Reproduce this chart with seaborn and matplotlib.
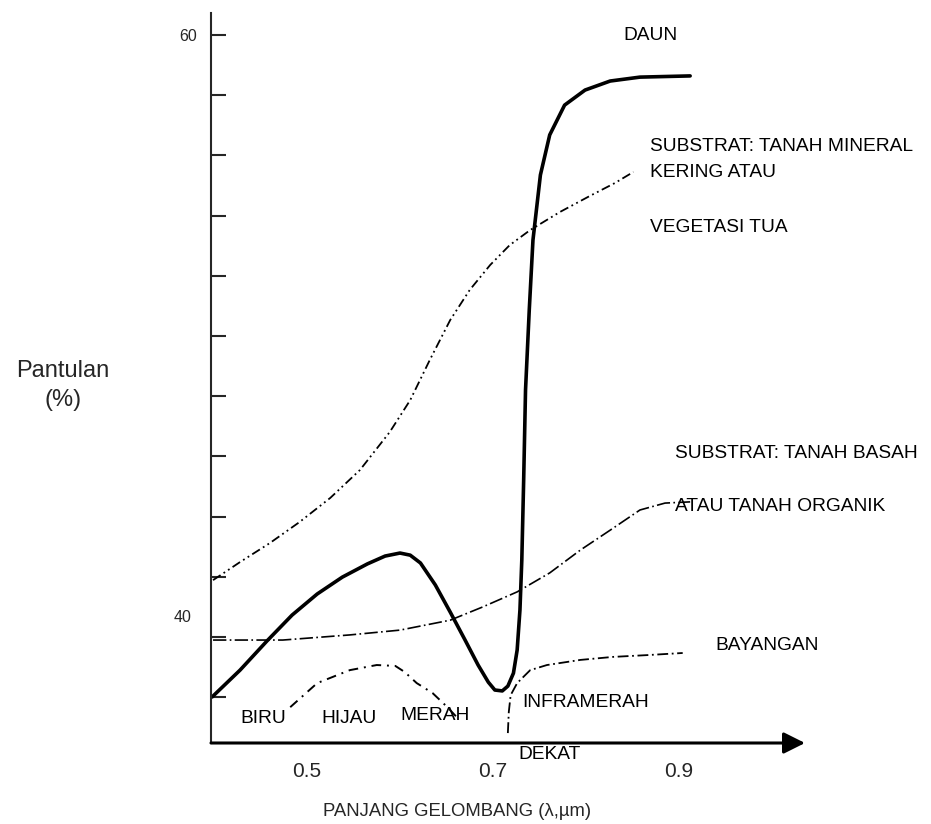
import matplotlib
matplotlib.use('Agg')
import matplotlib.pyplot as plt
import seaborn as sns
import numpy as np

# Kurva pantulan spektral (skema): panjang gelombang (um) vs pantulan
daun_x = [0.398, 0.428, 0.457, 0.484, 0.511, 0.538, 0.565, 0.584, 0.600, 0.611,
          0.622, 0.638, 0.654, 0.670, 0.684, 0.695, 0.702, 0.710, 0.716, 0.722,
          0.726, 0.729, 0.731, 0.733, 0.735, 0.739, 0.743, 0.751, 0.761, 0.777,
          0.799, 0.826, 0.858, 0.912]
daun_y = [38.01, 38.90, 39.87, 40.73, 41.43, 41.99, 42.43, 42.69, 42.79, 42.72,
          42.46, 41.73, 40.83, 39.90, 39.07, 38.50, 38.24, 38.21, 38.37, 38.80,
          39.57, 40.90, 42.56, 45.22, 48.21, 50.86, 53.19, 55.35, 56.68, 57.67,
          58.17, 58.47, 58.60, 58.64]

kering_x = [0.399, 0.428, 0.460, 0.492, 0.525, 0.557, 0.589, 0.611, 0.632, 0.654,
            0.675, 0.697, 0.718, 0.740, 0.772, 0.804, 0.831, 0.851]
kering_y = [41.89, 42.49, 43.12, 43.82, 44.62, 45.55, 46.81, 47.87, 49.20, 50.53,
            51.53, 52.36, 53.02, 53.52, 54.12, 54.65, 55.08, 55.45]

basah_x = [0.399, 0.474, 0.546, 0.600, 0.654, 0.689, 0.726, 0.761, 0.794, 0.826,
           0.858, 0.885, 0.912]
basah_y = [39.90, 39.90, 40.07, 40.23, 40.56, 41.00, 41.50, 42.13, 42.89, 43.55,
           44.22, 44.45, 44.49]

tampak_x = [0.482, 0.511, 0.546, 0.575, 0.595, 0.605, 0.618, 0.635, 0.651, 0.661]
tampak_y = [37.67, 38.47, 38.90, 39.07, 39.04, 38.84, 38.47, 38.14, 37.67, 37.34]

bayangan_x = [0.716, 0.717, 0.719, 0.726, 0.740, 0.758, 0.794, 0.829, 0.866, 0.904]
bayangan_y = [36.81, 37.51, 38.07, 38.47, 38.90, 39.07, 39.24, 39.34, 39.40, 39.47]

xticks = [0.5, 0.7, 0.9]
xtick_labels = ['0.5', '0.7', '0.9']
yticks = [60, 58, 56, 54, 52, 50, 48, 46, 44, 42, 40, 38]
ytick_labels = ['60', '', '', '', '', '', '', '', '', '', '', '']

sns.set_style('white')
plt.rcParams['font.family'] = ['Liberation Sans', 'DejaVu Sans']

fig = plt.figure(figsize=(9.31, 8.24), dpi=100)
ax = fig.add_axes([211/931, 81/824, 594/931, 730/824])

sns.lineplot(x=kering_x, y=kering_y, ax=ax, color='black', lw=1.3,
             linestyle=(0, (5, 2, 1, 2, 1, 2)), sort=False, estimator=None)
sns.lineplot(x=basah_x, y=basah_y, ax=ax, color='black', lw=1.2,
             linestyle=(0, (8, 2, 1, 2)), sort=False, estimator=None)
sns.lineplot(x=tampak_x, y=tampak_y, ax=ax, color='black', lw=1.4,
             linestyle=(0, (5, 3, 1, 3)), sort=False, estimator=None)
sns.lineplot(x=bayangan_x, y=bayangan_y, ax=ax, color='black', lw=1.3,
             linestyle=(0, (6, 2, 1, 2)), sort=False, estimator=None)
sns.lineplot(x=daun_x, y=daun_y, ax=ax, color='black', lw=2.6,
             sort=False, estimator=None)

ax.set_xlim(0.3968, 1.0355)
ax.set_ylim(36.48, 60.73)

# sumbu
sns.despine(ax=ax)
ax.spines['bottom'].set_visible(False)
ax.spines['left'].set_linewidth(1.5)
ax.annotate('', xy=(1.0, 0), xytext=(0, 0), xycoords='axes fraction',
            textcoords='axes fraction',
            arrowprops=dict(arrowstyle='-|>,head_length=1.3,head_width=0.65',
                            color='black', lw=2.2, shrinkA=0, shrinkB=0))

ax.set_xticks(xticks)
ax.set_xticklabels(xtick_labels)
ax.set_yticks(yticks)
ax.set_yticklabels(ytick_labels)
ax.set_yticks([40.7], minor=True)
ax.set_yticklabels(['40'], minor=True)
ax.tick_params(axis='x', direction='in', length=10, width=1.5, labelsize=15, pad=14)
ax.tick_params(axis='y', which='major', direction='in', length=11, width=1.5,
               labelsize=11.5, pad=10, left=True)
ax.tick_params(axis='y', which='minor', length=0, labelsize=11.5, pad=14)

ax.set_xlabel('PANJANG GELOMBANG (λ,µm)', fontsize=13.3, va='center')
ax.xaxis.set_label_coords(0.414, -0.0945)
ax.set_ylabel('Pantulan\n(%)', fontsize=17, rotation=0, ha='center',
              va='center', linespacing=1.4)
ax.yaxis.set_label_coords(-0.249, 0.49)

# label kurva
tkw = dict(fontsize=13.8, ha='left', va='center', color='black')
ax.text(0.840, 59.97, 'DAUN', **tkw)
ax.text(0.869, 56.28, 'SUBSTRAT: TANAH MINERAL', **tkw)
ax.text(0.869, 55.42, 'KERING ATAU', **tkw)
ax.text(0.869, 53.62, 'VEGETASI TUA', **tkw)
ax.text(0.896, 46.11, 'SUBSTRAT: TANAH BASAH', **tkw)
ax.text(0.896, 44.32, 'ATAU TANAH ORGANIK', **tkw)
ax.text(0.939, 39.73, 'BAYANGAN', **tkw)
ax.text(0.428, 37.31, 'BIRU', **tkw)
ax.text(0.516, 37.31, 'HIJAU', **tkw)
ax.text(0.600, 37.38, 'MERAH', **tkw)
ax.text(0.731, 37.84, 'INFRAMERAH', **tkw)
ax.text(0.727, 36.10, 'DEKAT', **tkw)

fig.savefig('out.png', dpi=100, facecolor='white')
